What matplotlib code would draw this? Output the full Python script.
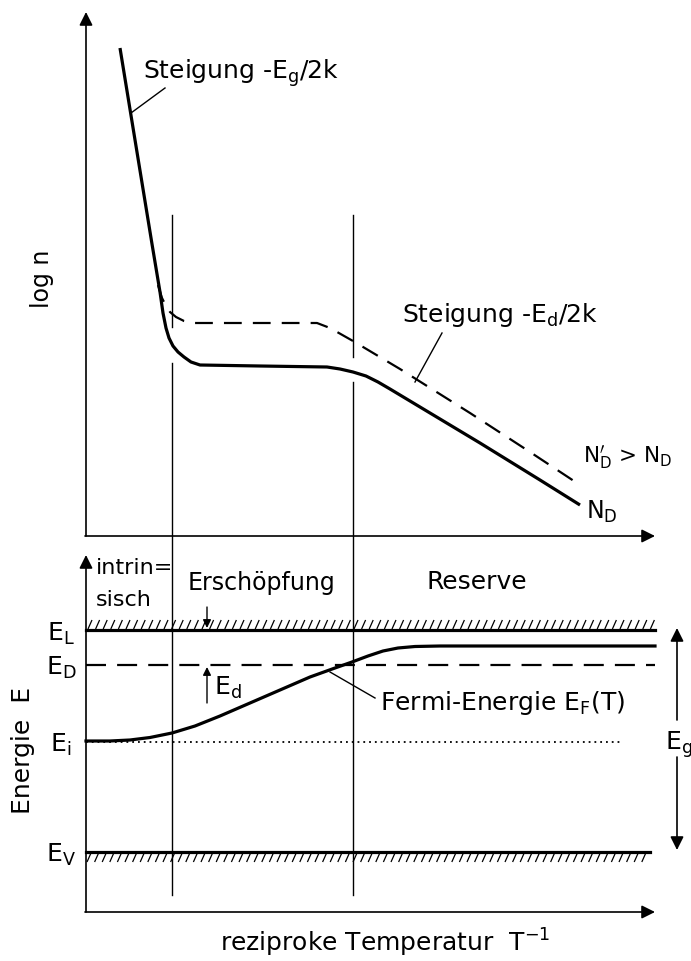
import numpy as np
import matplotlib.pyplot as plt
from matplotlib.collections import LineCollection

# chart is a schematic; everything lives in one pixel-like frame (x right, y down)
W, H = 691, 961

# upper panel: log n vs reciprocal temperature
solid_x = [120, 152, 160, 163, 166, 169, 173, 178, 184, 191, 200, 260, 327, 340, 353, 366, 378, 390, 420, 480, 540, 580]
solid_y = [48, 244, 292, 313, 328, 338, 346, 352, 357, 362, 365, 366, 367, 369, 372, 376, 382, 389, 407, 443, 480, 505]
dashed_x = [158, 162, 166, 170, 176, 184, 194, 250, 317, 330, 353, 400, 470, 530, 580]
dashed_y = [285, 298, 306, 312, 317, 321, 323, 323, 323, 328, 341, 369, 413, 452, 485]

# lower panel: band diagram levels and Fermi level
level_EL, level_ED, level_Ei, level_EV = 630, 665, 742, 852
fermi_x = [86, 110, 130, 150, 172, 195, 220, 250, 280, 310, 335, 352, 368, 383, 398, 415, 440, 655]
fermi_y = [741, 741, 740, 737.5, 733, 726, 716, 703, 690, 677, 668, 662, 656, 651, 648, 646.5, 646, 646]

# region boundaries
x_boundaries = [172, 353]
x0, x_end = 86, 655

plt.rcParams['mathtext.fontset'] = 'dejavusans'
plt.rcParams['font.family'] = 'DejaVu Sans'


def lbl(size=18):
    return dict(fontsize=size, color='black')


fig = plt.figure(figsize=(W / 100, H / 100), dpi=100)
ax = fig.add_axes([0, 0, 1, 1])
ax.set_xlim(0, W)
ax.set_ylim(H, 0)
ax.axis('off')

arrow = dict(arrowstyle='-|>', color='k', lw=1.2, mutation_scale=20, shrinkA=0, shrinkB=0)
thin = 1.0
thick = 2.3

# axes with arrows
ax.annotate('', xy=(x0, 12), xytext=(x0, 536), arrowprops=arrow)
ax.annotate('', xy=(x_end, 536), xytext=(x0 - 1, 536), arrowprops=arrow)
ax.annotate('', xy=(x0, 555), xytext=(x0, 912), arrowprops=arrow)
ax.annotate('', xy=(x_end, 912), xytext=(x0 - 1, 912), arrowprops=arrow)

# vertical boundaries, interrupted where they cross the solid curve
ax.plot([x_boundaries[0]] * 2, [215, 327], color='k', lw=thin)
ax.plot([x_boundaries[0]] * 2, [363, 895], color='k', lw=thin)
ax.plot([x_boundaries[1]] * 2, [215, 357], color='k', lw=thin)
ax.plot([x_boundaries[1]] * 2, [382, 895], color='k', lw=thin)

# upper panel curves
ax.plot(solid_x, solid_y, color='k', lw=thick, solid_capstyle='butt', solid_joinstyle='round')
ax.plot(dashed_x, dashed_y, color='k', lw=1.6, dashes=(8, 5))

ax.plot([165, 131], [88, 113], color='k', lw=thin)
ax.text(143, 73, r'Steigung -$\mathrm{E_g}$/2k', va='center', ha='left', **lbl(18))
ax.plot([442, 415], [333, 382], color='k', lw=thin)
ax.text(402, 315, r'Steigung -$\mathrm{E_d}$/2k', va='center', ha='left', **lbl(18))
ax.text(583, 457, r"$\mathrm{N_D'}$ > $\mathrm{N_D}$", va='center', ha='left', **lbl(15.5))
ax.text(586, 512, r'$\mathrm{N_D}$', va='center', ha='left', **lbl(17))
ax.text(42, 279, 'log n', rotation=90, va='center', ha='center', **lbl(17))

# lower panel levels
ax.plot([x0, x_end], [level_EL] * 2, color='k', lw=thick)
ax.plot([x0, x_end - 5], [level_EV] * 2, color='k', lw=thick)
ax.plot([x0, x_end], [level_ED] * 2, color='k', lw=1.6, dashes=(9, 5))
ax.plot([x0, 622], [level_Ei] * 2, color='k', lw=1.3, dashes=(1, 2.2))

# hatching above E_L and below E_V
hx = np.arange(x0 + 2, x_end - 4, 7.6)
segs = [[(x, level_EL - 1), (x + 4, level_EL - 10)] for x in hx]
segs += [[(x, level_EV + 10), (x + 4, level_EV + 1)] for x in np.arange(x0 + 1, x_end - 9, 7.6)]
ax.add_collection(LineCollection(segs, colors='k', linewidths=0.9))

ax.plot(fermi_x, fermi_y, color='k', lw=thick, solid_joinstyle='round')

ax.text(61, 634, r'$\mathrm{E_L}$', va='center', ha='center', **lbl(18))
ax.text(61, 668, r'$\mathrm{E_D}$', va='center', ha='center', **lbl(18))
ax.text(61, 745, r'$\mathrm{E_i}$', va='center', ha='center', **lbl(18))
ax.text(61, 855, r'$\mathrm{E_V}$', va='center', ha='center', **lbl(18))
ax.text(23, 750, 'Energie  E', rotation=90, va='center', ha='center', **lbl(18))

ax.text(96, 568, 'intrin=', va='center', ha='left', **lbl(16))
ax.text(96, 600, 'sisch', va='center', ha='left', **lbl(16))
ax.text(188, 583, 'Erschöpfung', va='center', ha='left', **lbl(17))
ax.text(427, 582, 'Reserve', va='center', ha='left', **lbl(18))

small = dict(arrowstyle='-|>', color='k', lw=1.0, mutation_scale=12, shrinkA=0, shrinkB=0)
ax.annotate('', xy=(207, 628), xytext=(207, 607), arrowprops=small)
ax.annotate('', xy=(207, 667), xytext=(207, 703), arrowprops=small)
ax.text(214, 688, r'$\mathrm{E_d}$', va='center', ha='left', **lbl(18))

ax.plot([330, 375], [672, 698], color='k', lw=thin)
ax.text(380, 703, r'Fermi-Energie $\mathrm{E_F}$(T)', va='center', ha='left', **lbl(18))

# band gap arrows
ax.annotate('', xy=(677, 628), xytext=(677, 720), arrowprops=arrow)
ax.annotate('', xy=(677, 850), xytext=(677, 757), arrowprops=arrow)
ax.text(665, 745, r'$\mathrm{E_g}$', va='center', ha='left', **lbl(18))

ax.text(385, 943, r'reziproke Temperatur  $\mathrm{T^{-1}}$', va='center', ha='center', **lbl(18))

fig.savefig('out.png', dpi=100, facecolor='white')
